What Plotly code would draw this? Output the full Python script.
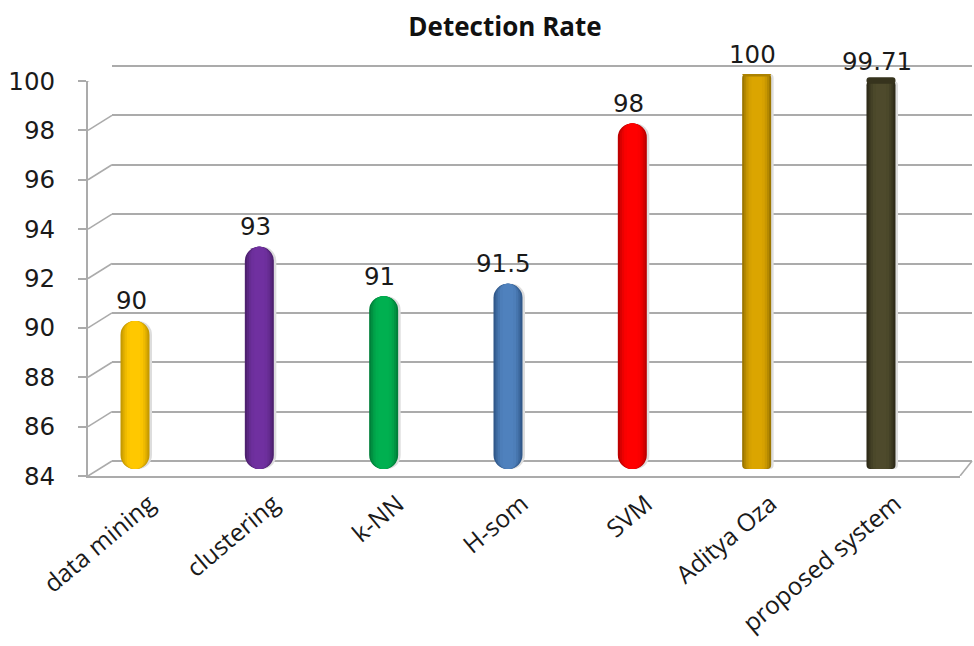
import plotly.graph_objects as go

categories = ["data mining", "clustering", "k-NN", "H-som", "SVM", "Aditya Oza", "proposed system"]
values = [90, 93, 91, 91.5, 98, 100, 99.71]
value_labels = ["90", "93", "91", "91.5", "98", "100", "99.71"]
center_colors = ["#FFC800", "#7030A0", "#00B050", "#4F81BD", "#FF0000", "#DBA500", "#4E4A2C"]
edge_colors = ["#C69A00", "#4E2170", "#00803A", "#30588A", "#BE0000", "#9C7600", "#2E2B18"]
y_ticks = [84, 86, 88, 90, 92, 94, 96, 98, 100]
corner_radius = [14, 14, 14, 14, 14, 4, 4]

W, H = 974, 646
FONT = "DejaVu Sans"
GRAY = "#ABABAB"
px = lambda v: v / W
py = lambda v: 1 - v / H

X_FRONT = (88, 960)
X_BACK = (112, 972)
Y_FRONT = (476, 81)
Y_BACK = (461, 66)
Y_BARS = (469, 74)
PER_UNIT = (Y_FRONT[0] - Y_FRONT[1]) / 16
DEPTH_UNITS = 15 / PER_UNIT
C0, STEP = 135, 124.33
PAD = 0.2  # keeps the first and last back-wall grid lines inside the axis range


def cat_range(domain):
    return [(domain[0] - C0) / STEP, (domain[1] - C0) / STEP]


def mix(a, b, t):
    ca = [int(a[i:i + 2], 16) for i in (1, 3, 5)]
    cb = [int(b[i:i + 2], 16) for i in (1, 3, 5)]
    return "#%02X%02X%02X" % tuple(round(p + (q - p) * t) for p, q in zip(ca, cb))


fig = go.Figure()

# back wall grid (x/y), front axis and labels (x2/y2), bars (x3/y3)
fig.add_trace(go.Scatter(x=[0], y=[84], xaxis="x", yaxis="y", mode="markers",
                         marker=dict(opacity=0), hoverinfo="skip"))
fig.add_trace(go.Scatter(x=categories, y=[84] * len(categories), xaxis="x2", yaxis="y2",
                         mode="markers", marker=dict(opacity=0), hoverinfo="skip"))

BAR_WIDTH = 29 / STEP
layers = [(1.0, 1.0), (0.86, 0.62), (0.72, 0.3), (0.56, 0.08), (0.36, 0.0)]
for cat, val, cc, ec, r in zip(categories, values, center_colors, edge_colors, corner_radius):
    # soft shadow just right of the column
    fig.add_trace(go.Bar(
        x=[cat], y=[val - 84], base=[84], width=[BAR_WIDTH],
        offset=[-BAR_WIDTH / 2 + 2.5 / STEP],
        xaxis="x3", yaxis="y3", cliponaxis=False,
        marker=dict(color="#DDDDDD", line=dict(width=0), cornerradius=max(1, r)),
        hoverinfo="skip"))
    for frac, t in layers:
        fig.add_trace(go.Bar(
            x=[cat], y=[val - 84], base=[84], width=[BAR_WIDTH * frac],
            xaxis="x3", yaxis="y3", cliponaxis=False,
            marker=dict(color=mix(cc, ec, t), line=dict(width=0),
                        cornerradius=max(1, r * frac)),
            hoverinfo="skip"))
    if r < 10:  # flat columns show a darker elliptical lid
        fig.add_trace(go.Bar(
            x=[cat], y=[0.26], base=[val - 0.1], width=[BAR_WIDTH],
            xaxis="x3", yaxis="y3", cliponaxis=False,
            marker=dict(color=mix(ec, cc, 0.25), line=dict(width=0), cornerradius=3),
            hoverinfo="skip"))

annotations = [
    dict(x=cat, y=val, text=label, xref="x3", yref="y3", showarrow=False,
         xshift=-4, yshift=20, xanchor="center", yanchor="middle",
         font=dict(family=FONT, size=24.5, color="#1A1A1A"))
    for cat, val, label in zip(categories, values, value_labels)
]

shapes = []
for v in y_ticks:
    shapes.append(dict(type="line", xref="paper", yref="y2",
                       x0=px(X_FRONT[0]), x1=px(X_BACK[0]), y0=v, y1=v + DEPTH_UNITS,
                       line=dict(color=GRAY, width=1.6), layer="below"))
shapes.append(dict(type="line", xref="paper", yref="y2",
                   x0=px(X_FRONT[1]), x1=px(X_BACK[1]), y0=84, y1=84 + DEPTH_UNITS,
                   line=dict(color=GRAY, width=1.6), layer="below"))

tickfont = dict(family=FONT, size=24.5, color="#1A1A1A")

fig.update_layout(
    width=W, height=H, margin=dict(l=0, r=0, t=0, b=0, autoexpand=False),
    paper_bgcolor="white", plot_bgcolor="rgba(0,0,0,0)",
    showlegend=False, barmode="overlay", shapes=shapes, annotations=annotations,
    title=dict(text="<b>Detection Rate</b>", x=505 / W, y=py(27), xanchor="center", yanchor="middle",
               automargin=False,
               font=dict(family="Open Sans", size=26, color="#111111")),
    xaxis=dict(domain=[px(X_BACK[0]), px(X_BACK[1])], range=[0, 1], visible=False, anchor="y"),
    yaxis=dict(domain=[py(Y_BACK[0] + PAD * PER_UNIT), py(Y_BACK[1] - PAD * PER_UNIT)],
               range=[84 - PAD, 100 + PAD], anchor="x",
               tickvals=y_ticks, showgrid=True, gridcolor=GRAY, gridwidth=1.6,
               showticklabels=False, ticks="", showline=False, zeroline=False),
    xaxis2=dict(domain=[px(X_FRONT[0]), px(X_FRONT[1])], range=cat_range(X_FRONT), anchor="y2",
                type="category", categoryorder="array", categoryarray=categories, automargin=False,
                tickangle=-40, tickfont=dict(family="Open Sans", size=24.5, color="#1A1A1A"),
                showline=True, linecolor=GRAY, linewidth=2, ticks="", showgrid=False,
                ticklabelstandoff=2, ticklabelshift=14),
    yaxis2=dict(domain=[py(Y_FRONT[0]), py(Y_FRONT[1])], range=[84, 100], anchor="x2", automargin=False,
                tickvals=y_ticks, tickfont=tickfont, showgrid=False, zeroline=False,
                showline=True, linecolor=GRAY, linewidth=2, ticks="outside", ticklen=8,
                tickcolor=GRAY, tickwidth=1.6, ticklabelstandoff=18),
    xaxis3=dict(domain=[px(X_FRONT[0]), px(X_FRONT[1])], range=cat_range(X_FRONT), anchor="y3",
                type="category", categoryorder="array", categoryarray=categories, visible=False),
    yaxis3=dict(domain=[py(Y_BARS[0]), py(Y_BARS[1])], range=[84, 100], anchor="x3", visible=False),
)
fig.write_html("out.html", config={"displayModeBar": False},
               post_script="document.body.style.margin='0';")
